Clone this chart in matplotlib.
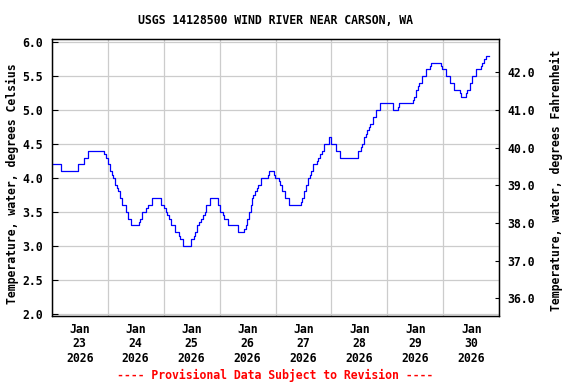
import matplotlib
matplotlib.use("Agg")
import matplotlib.pyplot as plt
import numpy as np

# Hours since 2026-01-23 00:00 at which the reading changes, and the reading (deg C)
hours = [0.0, 4.1, 11.3, 13.9, 15.7, 22.4, 23.3, 24.1, 25.0, 25.9, 26.4, 27.0, 27.9, 28.4,
         29.1, 30.2, 31.9, 32.7, 34.0, 37.5, 38.0, 38.8, 40.5, 41.1, 43.0, 46.7, 48.1, 48.9,
         49.6, 50.3, 51.0, 52.7, 54.4, 55.0, 56.3, 59.9, 61.0, 61.6, 62.4, 63.3, 63.9, 65.0,
         65.6, 66.4, 67.9, 71.3, 72.4, 73.3, 73.9, 75.6, 79.9, 82.7, 83.3, 83.9, 84.7, 85.3,
         85.9, 86.4, 87.0, 87.9, 88.4, 89.9, 92.7, 93.3, 95.3, 95.9, 97.3, 97.9, 98.7, 99.9,
         101.6, 102.0, 106.9, 107.4, 108.3, 109.1, 110.0, 110.6, 111.1, 112.0, 113.6, 114.3,
         115.3, 115.8, 116.9, 119.1, 119.7, 120.0, 121.9, 123.5, 131.2, 132.6, 133.1, 134.0,
         134.9, 135.3, 136.1, 136.7, 137.9, 139.3, 140.7, 146.4, 148.4, 149.0, 154.8, 155.3,
         156.4, 157.0, 157.6, 159.0, 160.4, 162.1, 162.7, 167.0, 167.6, 169.0, 170.7, 172.7,
         175.0, 175.6, 177.6, 178.1, 179.3, 180.4, 182.1, 184.1, 184.7, 185.3, 186.1, 187.6]
temp_c = [4.2, 4.1, 4.2, 4.3, 4.4, 4.35, 4.3, 4.2, 4.1, 4.05, 4.0, 3.9, 3.85, 3.8,
          3.7, 3.6, 3.5, 3.4, 3.3, 3.35, 3.4, 3.5, 3.55, 3.6, 3.7, 3.6, 3.55, 3.5,
          3.45, 3.4, 3.3, 3.2, 3.15, 3.1, 3.0, 3.1, 3.15, 3.2, 3.3, 3.35, 3.4, 3.45,
          3.5, 3.6, 3.7, 3.6, 3.5, 3.45, 3.4, 3.3, 3.2, 3.25, 3.3, 3.4, 3.5, 3.6,
          3.7, 3.75, 3.8, 3.85, 3.9, 4.0, 4.05, 4.1, 4.05, 4.0, 3.95, 3.9, 3.8, 3.7,
          3.65, 3.6, 3.65, 3.7, 3.8, 3.9, 4.0, 4.05, 4.1, 4.2, 4.25, 4.3,
          4.35, 4.4, 4.5, 4.6, 4.55, 4.5, 4.4, 4.3, 4.4, 4.45, 4.5, 4.6,
          4.65, 4.7, 4.75, 4.8, 4.9, 5.0, 5.1, 5.0, 5.05, 5.1, 5.15, 5.2,
          5.3, 5.35, 5.4, 5.5, 5.6, 5.65, 5.7, 5.65, 5.6, 5.5, 5.4, 5.3,
          5.25, 5.2, 5.25, 5.3, 5.4, 5.5, 5.6, 5.65, 5.7, 5.75, 5.8, 5.8]

day_labels = ["Jan\n23\n2026", "Jan\n24\n2026", "Jan\n25\n2026", "Jan\n26\n2026",
              "Jan\n27\n2026", "Jan\n28\n2026", "Jan\n29\n2026", "Jan\n30\n2026"]
c_ticks = [2.0, 2.5, 3.0, 3.5, 4.0, 4.5, 5.0, 5.5, 6.0]
f_ticks = [36.0, 37.0, 38.0, 39.0, 40.0, 41.0, 42.0]

title = "USGS 14128500 WIND RIVER NEAR CARSON, WA"
left_label = "Temperature, water, degrees Celsius"
right_label = "Temperature, water, degrees Fahrenheit"
footer = "---- Provisional Data Subject to Revision ----"

FONT = "DejaVu Sans Mono"
FS = 8.3

fig = plt.figure(figsize=(5.76, 3.84), dpi=100)
W, H = 576, 384
L, R, T, B = 51.7, 499.3, 39.3, 315.7
ax = fig.add_axes([L / W, 1 - B / H, (R - L) / W, (B - T) / H])

ax.plot(hours, temp_c, drawstyle="steps-post", color="#0000ff", lw=0.9, zorder=3)

ylo, yhi = 1.968, 6.044
ax.set_ylim(ylo, yhi)
ax.set_xlim(0, 192)

major_x = np.arange(0, 193, 24)
minor_x = np.arange(12, 192, 24)
ax.set_xticks(major_x)
ax.set_xticklabels([])
ax.set_xticks(minor_x, minor=True)
ax.set_xticklabels(day_labels, minor=True, fontfamily=FONT, fontweight="bold",
                   fontsize=FS, linespacing=1.15)
ax.tick_params(axis="x", which="both", length=0, pad=5)

ax.set_yticks(c_ticks)
ax.set_yticklabels([f"{v:.1f}" for v in c_ticks], fontfamily=FONT,
                   fontweight="bold", fontsize=FS)
ax.tick_params(axis="y", direction="in", length=4, width=0.8, pad=6.5)

ax.grid(True, which="major", color="#cccccc", lw=0.9, zorder=0)
ax.set_axisbelow(True)
for s in ax.spines.values():
    s.set_linewidth(0.9)
    s.set_color("black")

ax2 = ax.twinx()
ax2.set_ylim(ylo * 1.8 + 32, yhi * 1.8 + 32)
ax2.set_yticks(f_ticks)
ax2.set_yticklabels([f"{v:.1f}" for v in f_ticks], fontfamily=FONT,
                    fontweight="bold", fontsize=FS)
ax2.tick_params(axis="y", direction="in", length=3, width=0.8, pad=6)
for s in ax2.spines.values():
    s.set_linewidth(0.9)

fig.text((L + R) / 2 / W, 1 - 20.5 / H, title, ha="center", va="center",
         fontfamily=FONT, fontweight="bold", fontsize=FS)
fig.text(12.5 / W, 1 - 184 / H, left_label, rotation=90, ha="center", va="center",
         fontfamily=FONT, fontweight="bold", fontsize=FS)
fig.text(556.5 / W, 1 - 180 / H, right_label, rotation=90, ha="center", va="center",
         fontfamily=FONT, fontweight="bold", fontsize=FS)
fig.text((L + R) / 2 / W, 1 - 375.5 / H, footer, ha="center", va="center",
         fontfamily=FONT, fontweight="bold", fontsize=FS, color="#ff0000")

fig.savefig("out.png", dpi=100)
